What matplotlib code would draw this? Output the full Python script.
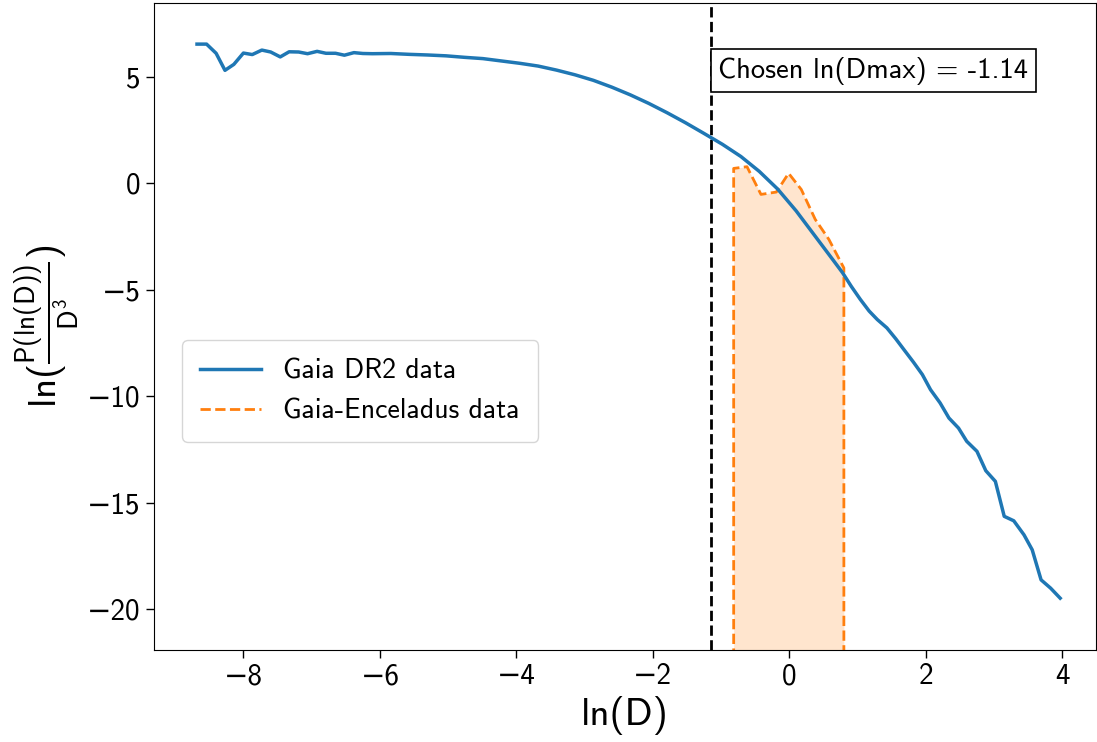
import numpy as np
import matplotlib
matplotlib.use("Agg")
import matplotlib.pyplot as plt

plt.rcParams['font.family'] = ['cmss10', 'DejaVu Sans']
plt.rcParams['mathtext.fontset'] = 'custom'
plt.rcParams['mathtext.rm'] = 'cmss10'
plt.rcParams['mathtext.sf'] = 'cmss10'
plt.rcParams['mathtext.it'] = 'cmss10'
plt.rcParams['axes.unicode_minus'] = True

# Gaia DR2 curve
gaia_x = [-8.68, -8.54, -8.40, -8.27, -8.14, -8.00, -7.87, -7.73, -7.60, -7.46,
          -7.33, -7.19, -7.06, -6.92, -6.79, -6.65, -6.52, -6.38, -6.25, -6.11,
          -5.84, -5.57, -5.30, -5.03, -4.76, -4.49, -4.22, -3.95, -3.68, -3.41,
          -3.14, -2.87, -2.60, -2.33, -2.06, -1.79, -1.52, -1.25, -0.98, -0.71,
          -0.44, -0.17, 0.10, 0.37, 0.64, 0.78, 0.91, 1.04, 1.17, 1.29,
          1.43, 1.56, 1.68, 1.82, 1.95, 2.07, 2.21, 2.34, 2.48, 2.60,
          2.75, 2.88, 3.02, 3.15, 3.29, 3.44, 3.56, 3.69, 3.83, 3.97]
gaia_y = [6.52, 6.52, 6.09, 5.29, 5.57, 6.10, 6.03, 6.24, 6.15, 5.92,
          6.16, 6.15, 6.07, 6.18, 6.09, 6.09, 6.00, 6.12, 6.08, 6.07,
          6.08, 6.04, 6.01, 5.97, 5.90, 5.84, 5.73, 5.62, 5.49, 5.30,
          5.08, 4.82, 4.50, 4.14, 3.74, 3.30, 2.83, 2.33, 1.82, 1.25,
          0.55, -0.28, -1.30, -2.45, -3.60, -4.20, -4.85, -5.45, -6.00, -6.40,
          -6.79, -7.30, -7.81, -8.40, -8.98, -9.69, -10.31, -11.02, -11.49, -12.11,
          -12.58, -13.49, -13.99, -15.63, -15.84, -16.50, -17.20, -18.61, -19.00, -19.47]

# Gaia-Enceladus data
ge_x = [-0.815, -0.62, -0.415, -0.19, -0.01, 0.176, 0.38, 0.58, 0.80]
ge_y = [0.69, 0.77, -0.53, -0.42, 0.46, -0.30, -1.70, -2.64, -3.98]
fill_base = -23.0

dmax = -1.14

fig = plt.figure(figsize=(10.97, 7.42), dpi=100)
ax = fig.add_axes([0.1404, 0.124, 0.859, 0.872])

ax.plot(gaia_x, gaia_y, color='#1f77b4', lw=2.5, label='Gaia DR2 data', zorder=3)
ax.fill_between(ge_x, ge_y, fill_base, color='#ff7f0e', alpha=0.2, lw=0, zorder=1)
ax.plot([ge_x[0]] + ge_x + [ge_x[-1]], [fill_base] + ge_y + [fill_base],
        color='#ff7f0e', ls='--', lw=2, label='Gaia-Enceladus data', zorder=2)
ax.axvline(dmax, color='black', ls='--', lw=2, zorder=2)

ax.text(dmax + 0.10, 5.28, 'Chosen ln(Dmax) = -1.14', fontsize=20.5,
        ha='left', va='center',
        bbox=dict(boxstyle='square,pad=0.27', facecolor='white', edgecolor='black', lw=1.2),
        zorder=5)

ax.set_xlim(-9.31, 4.5)
ax.set_ylim(-21.9, 8.45)
ax.set_xticks([-8, -6, -4, -2, 0, 2, 4])
ax.set_yticks([-20, -15, -10, -5, 0, 5])
ax.tick_params(labelsize=21, length=6, width=1)

ax.set_xlabel('ln(D)', fontsize=28, labelpad=4)
ax.set_ylabel(r'$\mathrm{ln}(\frac{\mathrm{P(ln(D))}}{\mathrm{D}^3})$', fontsize=28, labelpad=4)

ax.legend(loc='center left', bbox_to_anchor=(0.015, 0.40), fontsize=20,
          handlelength=2.2, borderpad=0.65, labelspacing=0.55)

fig.savefig('out.png', dpi=100)
